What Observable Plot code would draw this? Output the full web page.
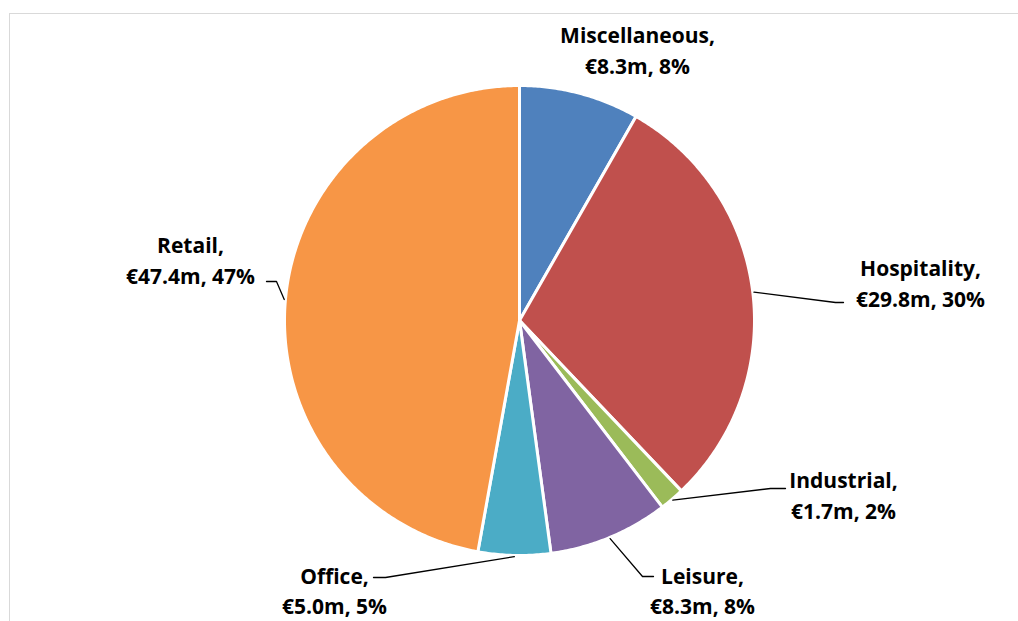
<!DOCTYPE html>
<html>
<head>
<meta charset="utf-8">
<script src="https://cdn.jsdelivr.net/npm/d3@7"></script>
<script src="https://cdn.jsdelivr.net/npm/@observablehq/plot@0.6"></script>
<style>
  html, body { margin: 0; padding: 0; background: #fff; overflow: hidden; width: 1018px; height: 621px; }
  #frame { position: absolute; left: 9px; top: 13px; width: 1100px; height: 700px; border: 1.5px solid #d9d9d9; box-sizing: border-box; }
  #chart { position: absolute; left: 0; top: 0; }
</style>
</head>
<body>
<div id="frame"></div>
<div id="chart"></div>
<script>
// ---- data ----
const categories = ["Miscellaneous", "Hospitality", "Industrial", "Leisure", "Office", "Retail"];
const valuesM = [8.3, 29.8, 1.7, 8.3, 5.0, 47.4];
const percents = [8, 30, 2, 8, 5, 47];
const colors = ["#4F81BD", "#C0504D", "#9BBB59", "#8064A2", "#4BACC6", "#F79646"];

// ---- layout (pixel offsets from pie centre) ----
const W = 1018, H = 621, CX = 519, CY = 320, R = 235;
const labelLayout = {
  "Miscellaneous": {lx: 118, ly: -272, lh: 1.5,  pts: []},
  "Hospitality":   {lx: 401, ly: -39,  lh: 1.5,  pts: [[316, -18], [324, -18]]},
  "Industrial":    {lx: 324, ly: 173,  lh: 1.5,  pts: [[251, 168], [266, 168]]},
  "Leisure":       {lx: 183, ly: 269,  lh: 1.42, pts: [[123, 256], [134, 256]]},
  "Office":        {lx: -185, ly: 269, lh: 1.42, pts: [[-134, 257], [-146, 257]]},
  "Retail":        {lx: -329, ly: -62, lh: 1.5,  pts: [[-243, -39], [-253, -39]]}
};

const total = d3.sum(valuesM);
const slices = [];
const leaders = [];
const labels = [];
let acc = 0;
categories.forEach((name, i) => {
  const a0 = acc / total * 2 * Math.PI;
  acc += valuesM[i];
  const a1 = acc / total * 2 * Math.PI;
  const n = Math.max(2, Math.ceil((a1 - a0) / (Math.PI / 360)));
  slices.push({name, x: 0, y: 0});
  for (let k = 0; k <= n; k++) {
    const a = a0 + (a1 - a0) * k / n;
    slices.push({name, x: Math.sin(a), y: Math.cos(a)});
  }
  const am = (a0 + a1) / 2;
  const L = labelLayout[name];
  if (L.pts.length) {
    leaders.push({name, x: Math.sin(am) * 1.005, y: Math.cos(am) * 1.005});
    L.pts.forEach(p => leaders.push({name, x: p[0] / R, y: -p[1] / R}));
  }
  labels.push({name, x: L.lx / R, y: -L.ly / R, lh: L.lh,
    text: `${name},\n€${valuesM[i].toFixed(1)}m, ${percents[i]}%`});
});

const textOpts = {x: "x", y: "y", text: "text", fontSize: 21, fontWeight: "bold", fill: "black", textAnchor: "middle"};

const chart = Plot.plot({
  width: W, height: H,
  margin: 0,
  x: {domain: [-CX / R, (W - CX) / R], axis: null},
  y: {domain: [-(H - CY) / R, CY / R], axis: null},
  color: {domain: categories, range: colors},
  style: {background: "transparent", overflow: "visible", fontFamily: "'Open Sans', sans-serif"},
  marks: [
    Plot.line(slices, {x: "x", y: "y", z: "name", fill: "name", stroke: "white", strokeWidth: 3, strokeLinejoin: "round", curve: "linear-closed"}),
    Plot.line(leaders, {x: "x", y: "y", z: "name", stroke: "black", strokeWidth: 1.3}),
    Plot.text(labels.filter(d => d.lh === 1.5), {...textOpts, lineHeight: 1.5}),
    Plot.text(labels.filter(d => d.lh !== 1.5), {...textOpts, lineHeight: 1.42})
  ]
});
document.getElementById("chart").appendChild(chart);
</script>
</body>
</html>
